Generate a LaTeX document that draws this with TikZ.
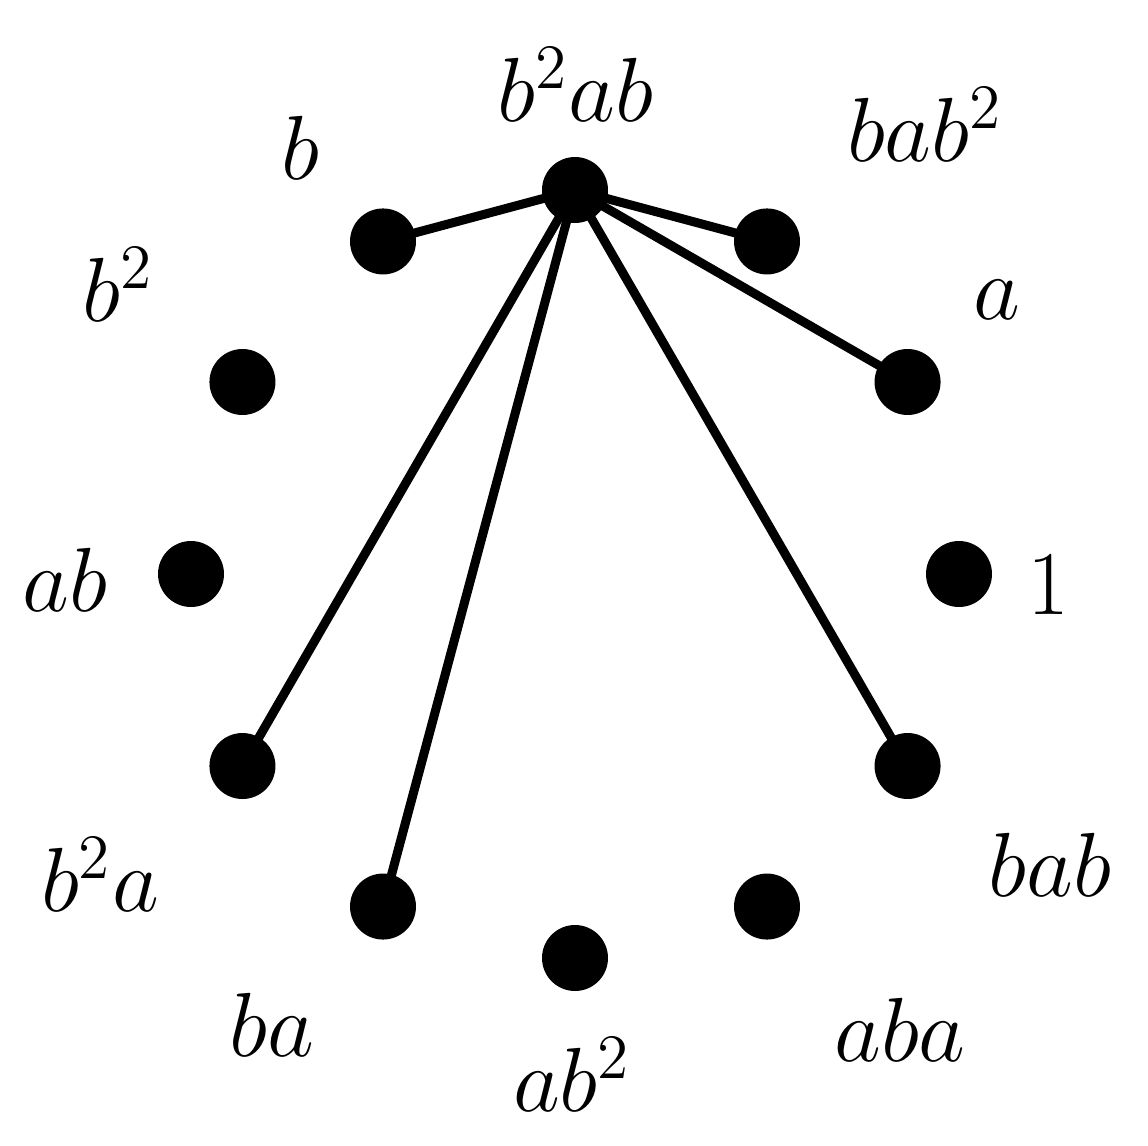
\documentclass[tikz,border=0pt]{standalone}
\begin{document}
\begin{tikzpicture}[x=0.02cm,y=-0.02cm,
  dot/.style={circle,fill=black,inner sep=0pt,minimum size=1.32cm},
  lab/.style={font=\huge,scale=2.5},
  edge/.style={line width=0.18cm}]
\useasboundingbox (0,0) rectangle (1148,1145);
\foreach \n/\ang in {n1/0,na/30,nbabb/60,nbbab/90,nb/120,nbb/150,nab/180,nbba/210,nba/240,nabb/270,naba/300,nbab/330}{
  \coordinate (c\n) at ({575+384*cos(\ang)},{574-384*sin(\ang)});
}
\foreach \n in {n1,na,nbabb,nbbab,nb,nbb,nab,nbba,nba,nabb,naba,nbab}{
  \node[dot] (\n) at (c\n) {};
}
\foreach \t in {nb,nbabb,na,nbba,nba,nbab}{
  \draw[edge] (nbbab.center) -- (\t.center);
}
\node[lab] (l1) at (1048,585) {$1$};
\node[lab] (la) at (997,300) {$a$};
\node[lab] (lbabb) at (925,125) {$bab^2$};
\node[lab] (lbbab) at (575,85) {$b^2ab$};
\node[lab] (lb) at (300,148) {$b$};
\node[lab] (lbb) at (118,285) {$b^2$};
\node[lab] (lab) at (65,580) {$ab$};
\node[lab] (lbba) at (100,875) {$b^2a$};
\node[lab] (lba) at (272,1025) {$ba$};
\node[lab] (labb) at (572,1075) {$ab^2$};
\node[lab] (laba) at (900,1030) {$aba$};
\node[lab] (lbab) at (1050,865) {$bab$};
\end{tikzpicture}
\end{document}
